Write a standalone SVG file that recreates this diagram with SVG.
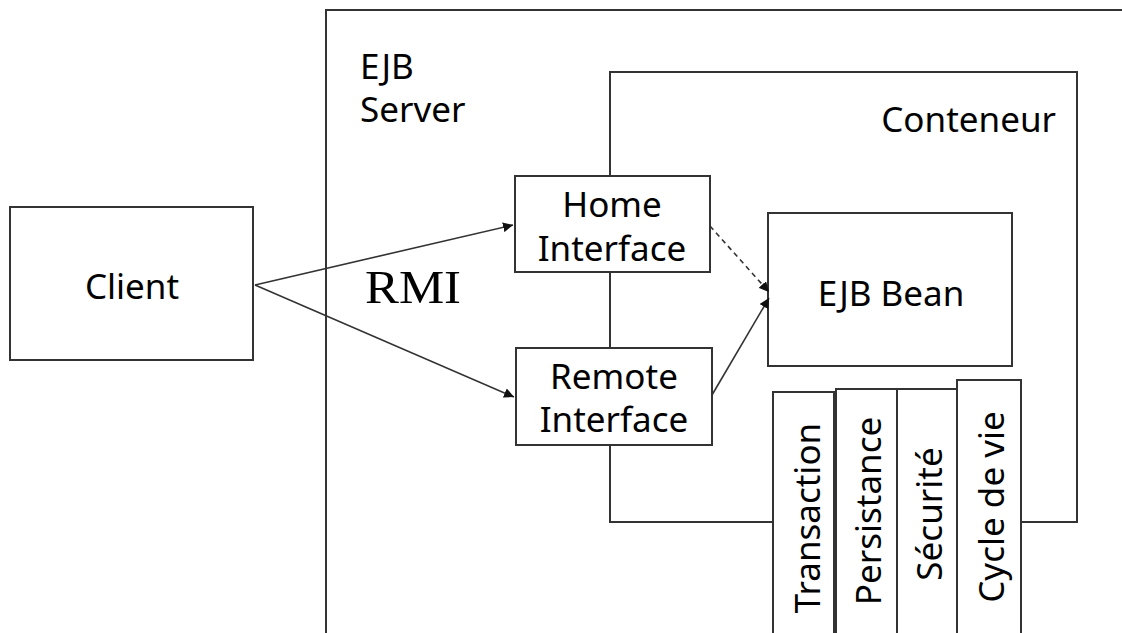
<svg xmlns="http://www.w3.org/2000/svg" width="1122" height="633" viewBox="0 0 1122 633">
<defs>
<style>
.box{fill:#fff;stroke:#333;stroke-width:2}
.ln{fill:none;stroke:#333;stroke-width:2}
.t{font-family:"Noto Sans","DejaVu Sans",sans-serif;font-size:35px;fill:#000}
.c{text-anchor:middle}
.con{fill:none;stroke:#333;stroke-width:1.6}
</style>
<marker id="ah" viewBox="0 0 10 10" refX="10" refY="5" markerWidth="10" markerHeight="10" markerUnits="userSpaceOnUse" orient="auto">
<path d="M0,0 L10,5 L0,10 z" fill="#111"/>
</marker>
</defs>
<rect width="1122" height="633" fill="#fff"/>
<g id="ejb-server">
<path class="ln" d="M326,640 L326,10 L1130,10"/>
<text class="t" x="360" y="79">EJB</text>
<text class="t" x="360" y="122">Server</text>
</g>
<g id="conteneur">
<path class="ln" d="M773,522 L610,522 L610,72 L1077,72 L1077,522 L1021,522"/>
<text class="t" x="1056" y="132" text-anchor="end">Conteneur</text>
</g>
<g id="client">
<rect class="box" x="10" y="207" width="243" height="153"/>
<text class="t c" x="132" y="299">Client</text>
</g>
<g id="home-interface">
<rect class="box" x="515" y="176" width="195" height="96"/>
<text class="t c" x="612" y="217">Home</text>
<text class="t c" x="612" y="261">Interface</text>
</g>
<g id="remote-interface">
<rect class="box" x="516" y="348" width="196" height="97"/>
<text class="t c" x="614" y="389">Remote</text>
<text class="t c" x="614" y="432">Interface</text>
</g>
<g id="ejb-bean">
<rect class="box" x="768" y="213" width="244" height="153"/>
<text class="t c" x="891" y="306">EJB Bean</text>
</g>
<g id="transaction">
<rect class="box" x="773" y="392" width="61" height="260"/>
<text class="t c" transform="translate(820,518) rotate(-90)">Transaction</text>
</g>
<g id="persistance">
<rect class="box" x="836" y="389" width="61" height="260"/>
<text class="t c" transform="translate(881,511) rotate(-90)">Persistance</text>
</g>
<g id="securite">
<rect class="box" x="897" y="389" width="60" height="260"/>
<text class="t c" transform="translate(942,514) rotate(-90)">Sécurité</text>
</g>
<g id="cycle-de-vie">
<rect class="box" x="957" y="380" width="64" height="270"/>
<text class="t c" transform="translate(1004,507) rotate(-90)">Cycle de vie</text>
</g>
<g id="connectors">
<line class="con" x1="255" y1="285" x2="513" y2="225" marker-end="url(#ah)"/>
<line class="con" x1="255" y1="285" x2="514" y2="397" marker-end="url(#ah)"/>
<line class="con" x1="710" y1="226" x2="769" y2="292" stroke-dasharray="5,4" marker-end="url(#ah)"/>
<line class="con" x1="712" y1="395" x2="769" y2="298" marker-end="url(#ah)"/>
<text x="365" y="303" font-family="'Liberation Serif',serif" font-size="47" textLength="96" lengthAdjust="spacingAndGlyphs" fill="#000">RMI</text>
</g>
</svg>
